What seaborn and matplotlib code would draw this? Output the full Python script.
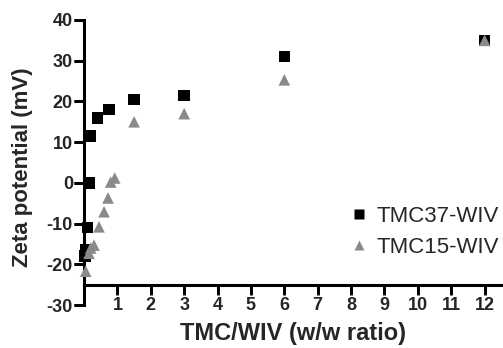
import matplotlib
matplotlib.use("Agg")
import matplotlib.pyplot as plt
import pandas as pd
import seaborn as sns

# Data
tmc37_x = [0.025, 0.05, 0.1, 0.15, 0.2, 0.4, 0.75, 1.5, 3, 6, 12]
tmc37_y = [-18, -16.5, -11, 0, 11.5, 16, 18, 20.5, 21.5, 31, 35]
tmc15_x = [0.05, 0.15, 0.2, 0.3, 0.45, 0.6, 0.72, 0.8, 0.92, 1.5, 3, 6, 12]
tmc15_y = [-21.7, -17.3, -16, -15.3, -10.8, -7.1, -3.7, 0.2, 1.2, 15, 17, 25.3, 35]
series_names = ["TMC37-WIV", "TMC15-WIV"]
x_ticks = list(range(1, 13))
y_ticks = list(range(-30, 41, 10))
x_axis_at = -25  # the x axis crosses the y axis here

df = pd.concat([
    pd.DataFrame({"ratio": tmc37_x, "zeta": tmc37_y, "series": series_names[0]}),
    pd.DataFrame({"ratio": tmc15_x, "zeta": tmc15_y, "series": series_names[1]}),
])

sns.set_style("white")
plt.rcParams.update({
    "font.family": ["Liberation Sans", "DejaVu Sans"],
    "axes.unicode_minus": False,
})

fig = plt.figure(figsize=(5.03, 3.48), dpi=100)
ax = fig.add_axes([84 / 503, 43 / 348, 419 / 503, 285 / 348])

sns.scatterplot(data=df, x="ratio", y="zeta", hue="series", style="series",
                markers={"TMC37-WIV": "s", "TMC15-WIV": "^"},
                palette={"TMC37-WIV": "black", "TMC15-WIV": "#8a8a8a"},
                s=70, ax=ax, clip_on=False, zorder=3, edgecolor="none")

ax.set_xlim(0, 12.55)
ax.set_ylim(-30, 40)
ax.set_xticks(x_ticks)
ax.set_yticks(y_ticks)

ax.spines["top"].set_visible(False)
ax.spines["right"].set_visible(False)
ax.spines["bottom"].set_position(("data", x_axis_at))
for sp in ("left", "bottom"):
    ax.spines[sp].set_linewidth(2.2)
    ax.spines[sp].set_color("black")

ax.set_axisbelow(False)
ax.tick_params(axis="both", direction="out", length=7, width=2, color="black",
               labelsize=13, pad=1, bottom=True, left=True)
ax.tick_params(axis="x", pad=2)
for lab in ax.get_xticklabels() + ax.get_yticklabels():
    lab.set_fontweight("bold")

# tick marks as short line segments (about 10 px long)
ax.vlines(x_ticks, x_axis_at - 2.4, x_axis_at, colors="black", linewidth=2,
          clip_on=False, zorder=6)
ax.hlines(y_ticks, -0.29, 0, colors="black", linewidth=2,
          clip_on=False, zorder=6)

ax.set_xlabel("TMC/WIV (w/w ratio)", fontsize=17, fontweight="bold")
ax.set_ylabel("Zeta potential (mV)", fontsize=16, fontweight="bold")
ax.xaxis.set_label_coords(0.5, -0.06)
ax.yaxis.set_label_coords(-0.122, 0.485)

handles, labels = ax.get_legend_handles_labels()
ax.legend(handles=handles[:2], labels=labels[:2], loc="center left",
          bbox_to_anchor=(0.625, 0.256), frameon=False, fontsize=16,
          handletextpad=0.2, handlelength=1.2, labelspacing=0.45,
          markerscale=0.85, borderaxespad=0, borderpad=0)

fig.savefig("out.png", dpi=100)
